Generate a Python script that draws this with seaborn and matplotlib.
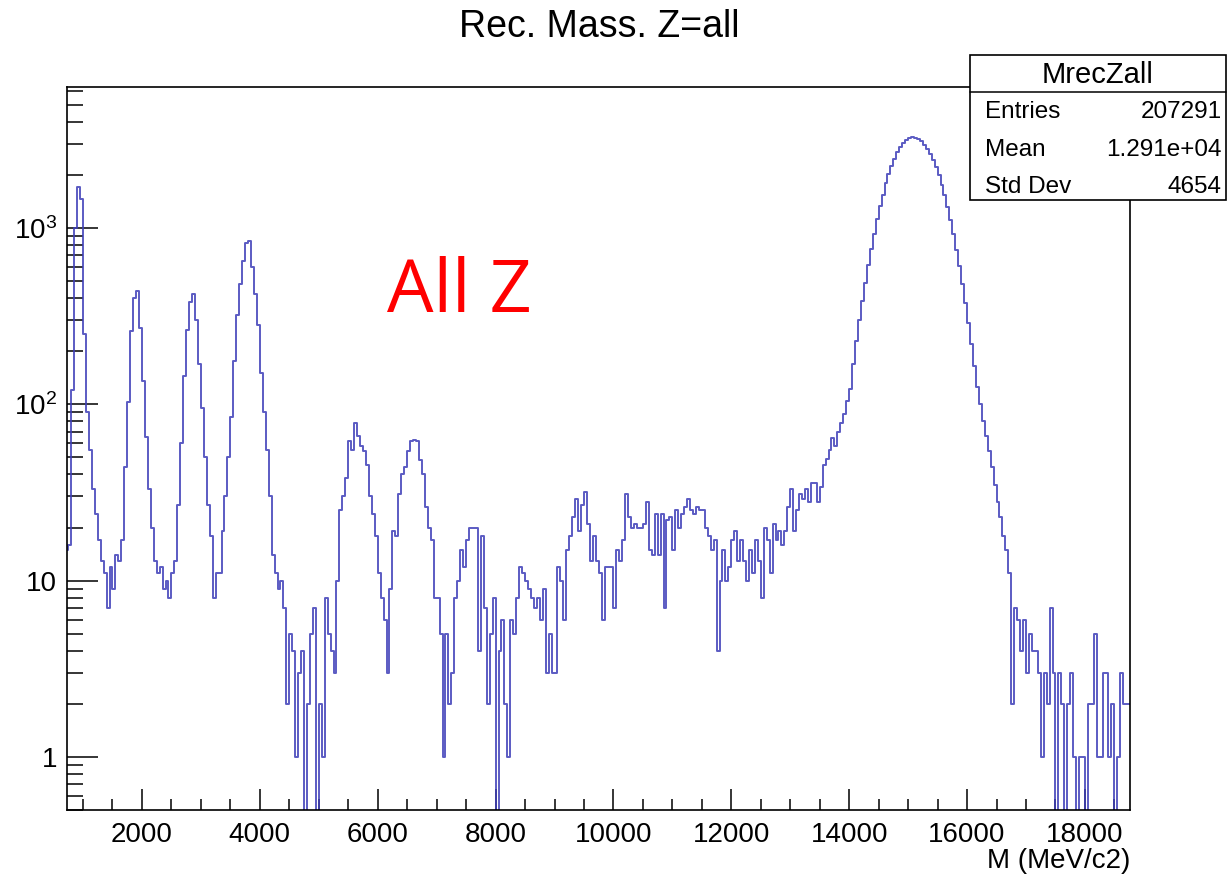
import numpy as np
import pandas as pd
import seaborn as sns
import matplotlib.pyplot as plt
from matplotlib.ticker import FixedLocator, FixedFormatter, LogLocator, MultipleLocator, NullFormatter
from matplotlib.patches import Rectangle
from matplotlib.lines import Line2D

# binning of the histogram (MeV/c2)
bin_start = 700
bin_width = 50

# counts per bin
counts_low = [  # 700 - 4150
    15, 16, 120, 1000, 1700, 1450, 250, 90, 55, 33,
    24, 17, 13, 11, 7, 12, 9, 14, 13, 17,
    44, 103, 260, 400, 440, 270, 135, 65, 33, 20,
    13, 11, 12, 9, 10, 8, 11, 13, 27, 60,
    145, 265, 380, 420, 300, 170, 95, 50, 27, 18,
    8, 11, 11, 19, 30, 50, 85, 175, 320, 480,
    650, 820, 840, 600, 420, 280, 150, 90, 55, 30,
]
counts_mid = [  # 4200 - 8650
    14, 11, 9, 10, 7, 2, 5, 4, 1, 3,
    4, 0, 2, 5, 7, 0, 2, 1, 8, 5,
    4, 3, 10, 25, 30, 38, 62, 55, 78, 66,
    58, 54, 45, 30, 24, 18, 11, 8, 6, 3,
    9, 19, 18, 31, 40, 44, 54, 62, 63, 62,
    48, 40, 26, 20, 17, 8, 8, 5, 1, 5,
    2, 3, 8, 10, 15, 12, 17, 20, 20, 20,
    4, 18, 7, 2, 5, 8, 0, 4, 6, 2,
    1, 6, 5, 8, 12, 11, 10, 9, 8, 7,
]
counts_flat = [  # 8700 - 13650
    8, 6, 9, 3, 5, 3, 3, 12, 10, 6,
    15, 18, 23, 29, 19, 27, 32, 21, 13, 18,
    13, 11, 6, 12, 12, 12, 7, 15, 13, 17,
    31, 23, 20, 21, 20, 20, 21, 28, 15, 14,
    24, 14, 24, 7, 22, 23, 15, 25, 20, 24,
    26, 29, 25, 24, 26, 25, 25, 20, 18, 15,
    17, 4, 10, 15, 10, 12, 17, 19, 13, 17,
    13, 10, 15, 11, 17, 13, 8, 20, 17, 11,
    21, 17, 19, 16, 19, 26, 33, 19, 25, 31,
    29, 33, 28, 36, 36, 28, 34, 45, 49, 55,
]
counts_peak = [  # 13700 - 16650
    64, 58, 70, 78, 88, 104, 122, 170, 228, 300,
    385, 490, 620, 760, 930, 1120, 1330, 1540, 1790, 2010,
    2260, 2470, 2700, 2860, 3040, 3140, 3230, 3260, 3240, 3190,
    3100, 2970, 2820, 2640, 2430, 2210, 1990, 1760, 1530, 1310,
    1110, 920, 750, 610, 480, 375, 290, 220, 165, 125,
    100, 80, 66, 54, 44, 35, 28, 23, 18, 15,
]
counts_tail = [  # 16700 - 18750
    11, 2, 7, 6, 4, 6, 3, 5, 4, 4,
    3, 1, 3, 2, 7, 3, 0, 3, 2, 0,
    2, 3, 1, 0, 1, 1, 0, 2, 2, 5,
    1, 1, 3, 3, 1, 2, 0, 1, 3, 2,
    2, 2,
]

stats_labels = ["Entries", "Mean", "Std Dev"]
stats_values = ["207291", "1.291e+04", "4654"]

counts = counts_low + counts_mid + counts_flat + counts_peak + counts_tail
edges = bin_start + bin_width * np.arange(len(counts) + 1)
df = pd.DataFrame({"M": edges[:-1] + bin_width / 2, "n": counts})

sns.set_theme(style="white")
plt.rcParams["font.family"] = ["Liberation Sans", "DejaVu Sans"]
plt.rcParams["text.color"] = "black"
plt.rcParams["mathtext.fontset"] = "custom"
plt.rcParams["mathtext.rm"] = "Liberation Sans"
plt.rcParams["mathtext.it"] = "Liberation Sans:italic"

W, H = 1228, 875
fig = plt.figure(figsize=(W / 100, H / 100), dpi=100)
ax = fig.add_axes([67 / W, 1 - 810 / H, (1130 - 67) / W, (810 - 87) / H])

sns.histplot(data=df, x="M", weights="n", bins=edges.tolist(), element="step", fill=False,
             color="#3e3eb8", linewidth=1.4, alpha=0.85, ax=ax)
ax.set_yscale("log")
ax.set_xlim(728, 18765)
ax.set_ylim(0.5, 6300)
ax.set_xlabel("")
ax.set_ylabel("")

# ROOT-like axes
for s in ax.spines.values():
    s.set_color("black")
    s.set_linewidth(1.2)
ax.yaxis.set_major_locator(FixedLocator([1, 10, 100, 1000]))
ax.yaxis.set_major_formatter(FixedFormatter(["1", "10", "10$^{2}$", "10$^{3}$"]))
ax.yaxis.set_minor_locator(LogLocator(base=10, subs=np.arange(2, 10)))
ax.yaxis.set_minor_formatter(NullFormatter())
ax.xaxis.set_major_locator(MultipleLocator(2000))
ax.xaxis.set_minor_locator(MultipleLocator(500))
ax.tick_params(axis="both", which="both", direction="in", colors="black",
               labelcolor="black", labelsize=20, width=1.1,
               bottom=True, left=True, top=False, right=False)
ax.tick_params(axis="y", which="major", length=22, pad=7)
ax.tick_params(axis="y", which="minor", length=11.5)
ax.tick_params(axis="x", which="major", length=15, pad=9)
ax.tick_params(axis="x", which="minor", length=8)

fig.text(599 / W, 1 - 27 / H, "Rec. Mass. Z=all", ha="center", va="center", fontsize=27)
fig.text(1130 / W, 1 - 861 / H, "M (MeV/c2)", ha="right", va="center", fontsize=20)
fig.text(387 / W, 1 - 312 / H, "All Z", ha="left", va="baseline", fontsize=53,
         color="#ff0000", family=["Open Sans", "DejaVu Sans"])

# stats box
fig.add_artist(Rectangle((970 / W, 1 - 200 / H), (1226 - 970) / W, (200 - 55) / H,
                         transform=fig.transFigure, facecolor="white", edgecolor="black",
                         linewidth=1.2, zorder=5))
fig.add_artist(Line2D([970 / W, 1226 / W], [1 - 92 / H, 1 - 92 / H],
                      transform=fig.transFigure, color="black", linewidth=1.1, zorder=6))
fig.text(1098 / W, 1 - 75 / H, "MrecZall", ha="center", va="center", fontsize=21, zorder=7)
for i, (lab, val) in enumerate(zip(stats_labels, stats_values)):
    y = 1 - (112 + 37.5 * i) / H
    fig.text(985 / W, y, lab, ha="left", va="center", fontsize=17.5, zorder=7)
    fig.text(1222 / W, y, val, ha="right", va="center", fontsize=17.5, zorder=7)

fig.savefig("out.png", dpi=100)
